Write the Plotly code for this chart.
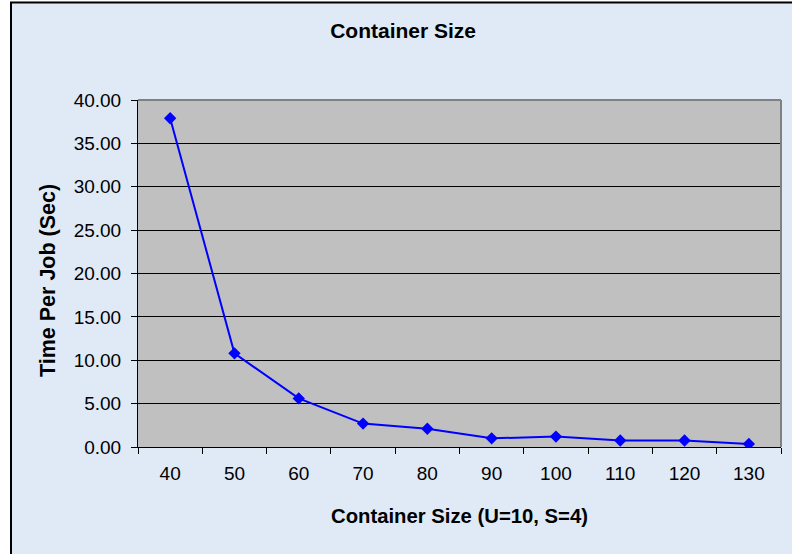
import plotly.graph_objects as go

# Container size vs. time per job
container_sizes = ["40", "50", "60", "70", "80", "90", "100", "110", "120", "130"]
time_per_job = [37.9, 10.8, 5.6, 2.7, 2.1, 1.0, 1.2, 0.75, 0.75, 0.35]
y_ticks = [0, 5, 10, 15, 20, 25, 30, 35, 40]

FONT = "Liberation Sans, Arial, sans-serif"
BG = "#dfeaf6"

fig = go.Figure()
fig.add_trace(go.Scatter(
    x=container_sizes,
    y=time_per_job,
    mode="lines+markers",
    line=dict(color="#0000ff", width=2),
    marker=dict(symbol="diamond", size=9.5, color="#0000ff"),
    showlegend=False,
))

W, H = 792, 554
L, R, T, B = 138, 11, 100, 107
pw, ph = W - L - R, H - T - B


def px_x(p):
    return (p - L) / pw


def px_y(p):
    return (H - B - p) / ph


shapes = [
    # white page margin outside the chart frame
    dict(type="rect", xref="paper", yref="paper", x0=px_x(-20), x1=px_x(10),
         y0=px_y(600), y1=px_y(-20), fillcolor="white", line=dict(width=0)),
    dict(type="rect", xref="paper", yref="paper", x0=px_x(-20), x1=px_x(820),
         y0=px_y(1.5), y1=px_y(-20), fillcolor="white", line=dict(width=0)),
    # chart frame
    dict(type="line", xref="paper", yref="paper", x0=px_x(11), x1=px_x(11),
         y0=px_y(2), y1=px_y(600), line=dict(color="black", width=2)),
    dict(type="line", xref="paper", yref="paper", x0=px_x(10), x1=px_x(820),
         y0=px_y(2.5), y1=px_y(2.5), line=dict(color="black", width=2)),
    # plot-area border on top and right
    dict(type="line", xref="paper", yref="paper", x0=0, x1=1, y0=1, y1=1,
         line=dict(color="#808080", width=2)),
    dict(type="line", xref="paper", yref="paper", x0=1, x1=1, y0=0, y1=1,
         line=dict(color="#808080", width=2)),
]

fig.update_layout(
    width=W, height=H,
    margin=dict(l=L, r=R, t=T, b=B),
    paper_bgcolor=BG,
    plot_bgcolor="#c0c0c0",
    font=dict(family=FONT, color="black"),
    title=dict(text="<b>Container Size</b>", font=dict(size=21, family=FONT, color="black"),
               xref="container", x=0.509, xanchor="center",
               yref="container", y=1 - 31 / H, yanchor="middle"),
    xaxis=dict(type="category", categoryorder="array", categoryarray=container_sizes,
               range=[-0.5, 9.5], tickson="boundaries", ticks="outside", ticklen=6,
               tickcolor="black", showgrid=False, showline=True, linecolor="black",
               linewidth=1, ticklabelstandoff=9,
               tickfont=dict(size=19, family=FONT, color="black")),
    yaxis=dict(range=[0, 40], tickvals=y_ticks, tickformat=".2f", ticks="outside",
               ticklen=6, tickcolor="black", showgrid=True, gridcolor="black",
               gridwidth=1, zeroline=False, showline=True, linecolor="black",
               linewidth=1, ticklabelstandoff=6,
               tickfont=dict(size=19, family=FONT, color="black")),
    shapes=shapes,
    annotations=[
        dict(text="<b>Container Size (U=10, S=4)</b>", xref="paper", yref="paper",
             x=0.5, y=px_y(516), xanchor="center", yanchor="middle", showarrow=False,
             font=dict(size=20.3, family=FONT, color="black")),
        dict(text="<b>Time Per Job (Sec)</b>", xref="paper", yref="paper",
             x=px_x(48), y=px_y(281), xanchor="center", yanchor="middle", textangle=-90,
             showarrow=False, font=dict(size=21.5, family=FONT, color="black")),
    ],
)

fig.write_html("out.html")
